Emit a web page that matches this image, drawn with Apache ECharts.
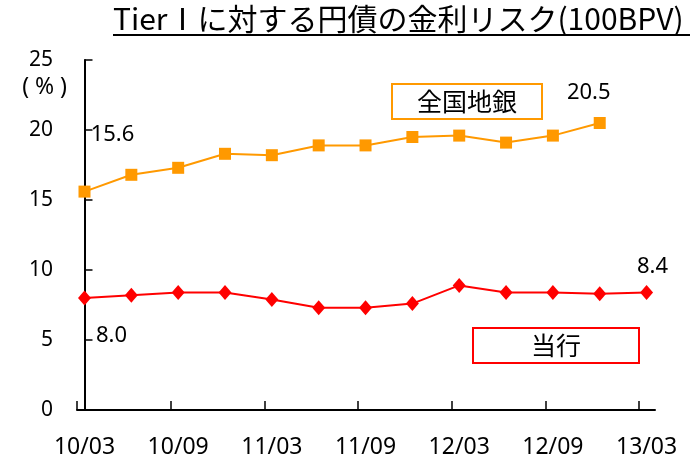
<!DOCTYPE html>
<html>
<head>
<meta charset="utf-8">
<title>Tier Ⅰに対する円債の金利リスク</title>
<script src="https://cdn.jsdelivr.net/npm/echarts@6.0.0/dist/echarts.min.js"></script>
<style>
  html, body { margin: 0; padding: 0; background: #fff; }
  #chart { width: 700px; height: 460px; }
</style>
</head>
<body>
<div id="chart"></div>
<script>
// 四半期（10/03〜13/03）
var quarters = ['10/03', '10/06', '10/09', '10/12', '11/03', '11/06', '11/09',
  '11/12', '12/03', '12/06', '12/09', '12/12', '13/03'];
// 全国地銀（12/12まで）
var chiginValues = [15.6, 16.8, 17.3, 18.3, 18.2, 18.9, 18.9, 19.5, 19.6, 19.1, 19.6, 20.5];
// 当行
var tougyouValues = [8.0, 8.2, 8.4, 8.4, 7.9, 7.3, 7.3, 7.6, 8.9, 8.4, 8.4, 8.3, 8.4];
// 目盛りラベルを付ける四半期（半年ごと）
var xLabelIndex = [0, 2, 4, 6, 8, 10, 12];

var black = '#000';
var orange = '#FF9900';
var red = '#FF0000';
var jp = '"Noto Sans CJK JP", "Noto Sans", sans-serif';
var num = '"Noto Sans", "DejaVu Sans", sans-serif';

// 目盛りは点から少し左にずれている（Excel風）
var tickShift = 0.16;
var tickValues = xLabelIndex.map(function (i) { return i - tickShift; });

function toPoints(values, labels) {
  return values.map(function (v, i) {
    var item = { value: [i, v] };
    if (labels[i]) {
      item.label = { show: true, offset: labels[i] };
    }
    return item;
  });
}

var myChart = echarts.init(document.getElementById('chart'));
myChart.setOption({
  animation: false,
  backgroundColor: '#fff',
  title: [
    {
      text: 'TierⅠに対する円債の金利リスク(100BPV)',
      left: 113, top: 4, padding: 0,
      textStyle: { fontSize: 30, fontWeight: 'normal', color: black, fontFamily: jp }
    },
    {
      text: '全国地銀',
      left: 392, top: 84, padding: [4, 25],
      borderColor: orange, borderWidth: 2,
      textStyle: { fontSize: 25, lineHeight: 27, fontWeight: 'normal', color: black, fontFamily: jp }
    },
    {
      text: '当行',
      left: 473, top: 328, padding: [4, 58],
      borderColor: red, borderWidth: 2,
      textStyle: { fontSize: 25, lineHeight: 27, fontWeight: 'normal', color: black, fontFamily: jp }
    }
  ],
  graphic: [
    {
      type: 'line', silent: true,
      shape: { x1: 113, y1: 35, x2: 690, y2: 35 },
      style: { stroke: black, lineWidth: 2 }
    },
    {
      // 単位
      type: 'text', silent: true,
      x: 67, y: 87,
      style: { text: '( % )', fill: black, fontSize: 23, fontFamily: 'Noto Sans',
        align: 'right', verticalAlign: 'middle' }
    }
  ],
  grid: { left: 77, right: 45, top: 60, bottom: 50, outerBoundsMode: 'none' },
  xAxis: {
    type: 'value',
    min: -tickShift,
    max: 12.18,
    axisLine: { show: true, onZero: false, lineStyle: { color: black, width: 2 } },
    axisTick: { show: true, inside: true, length: 9, customValues: tickValues,
      lineStyle: { color: black, width: 1.5 } },
    axisLabel: {
      customValues: xLabelIndex,
      formatter: function (v) { return quarters[Math.round(v)]; },
      margin: 26, fontSize: 23, color: black, fontFamily: num
    },
    splitLine: { show: false }
  },
  yAxis: {
    type: 'value',
    min: 0, max: 25, interval: 5,
    axisLine: { show: true, lineStyle: { color: black, width: 2 } },
    axisTick: { show: true, inside: true, length: 8, lineStyle: { color: black, width: 1.5 } },
    axisLabel: { margin: 24, fontSize: 21, color: black, fontFamily: num },
    splitLine: { show: false }
  },
  series: [
    {
      name: '全国地銀',
      type: 'line',
      data: toPoints(chiginValues, { 0: [28, -57], 11: [-11, -30] }),
      symbol: 'rect',
      symbolSize: 12,
      itemStyle: { color: orange },
      lineStyle: { color: orange, width: 2 },
      label: {
        show: false, position: 'inside',
        formatter: function (p) { return p.value[1].toFixed(1); },
        fontSize: 22, color: black, fontFamily: num
      }
    },
    {
      name: '当行',
      type: 'line',
      data: toPoints(tougyouValues, { 0: [27, 38], 12: [6, -26] }),
      symbol: 'diamond',
      symbolSize: [13, 15],
      itemStyle: { color: red },
      lineStyle: { color: red, width: 2 },
      label: {
        show: false, position: 'inside',
        formatter: function (p) { return p.value[1].toFixed(1); },
        fontSize: 22, color: black, fontFamily: num
      }
    }
  ]
});
</script>
</body>
</html>
